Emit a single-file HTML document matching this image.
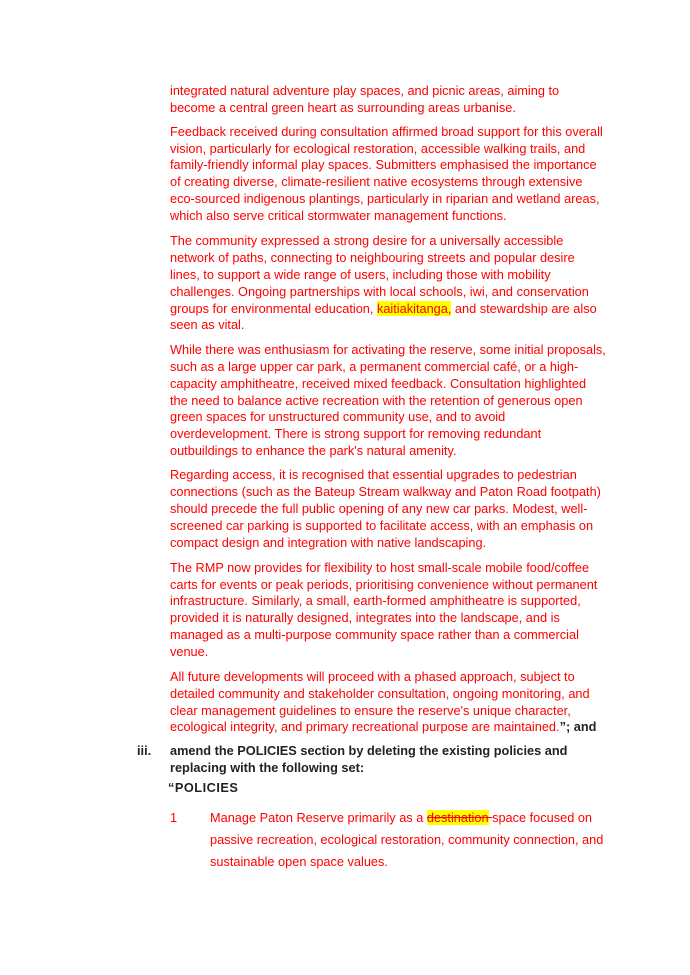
<!DOCTYPE html>
<html><head><meta charset="utf-8"><style>
body{margin:0;width:690px;height:975px;background:#fff;position:relative;font-family:"Liberation Sans",Arial,sans-serif;font-size:12.75px;color:#ff0000;overflow:hidden}
.l{position:absolute;left:170px;height:17px;line-height:17px;white-space:nowrap}
.b{color:#222;font-weight:bold}
.hl{background:#ffff00}
.p{left:210px}
</style></head><body>
<div class="l" style="top:82px">integrated natural adventure play spaces, and picnic areas, aiming to</div>
<div class="l" style="top:99px">become a central green heart as surrounding areas urbanise.</div>

<div class="l" style="top:123px">Feedback received during consultation affirmed broad support for this overall</div>
<div class="l" style="top:140px">vision, particularly for ecological restoration, accessible walking trails, and</div>
<div class="l" style="top:156px">family-friendly informal play spaces. Submitters emphasised the importance</div>
<div class="l" style="top:173px">of creating diverse, climate-resilient native ecosystems through extensive</div>
<div class="l" style="top:190px">eco-sourced indigenous plantings, particularly in riparian and wetland areas,</div>
<div class="l" style="top:207px">which also serve critical stormwater management functions.</div>

<div class="l" style="top:232px">The community expressed a strong desire for a universally accessible</div>
<div class="l" style="top:249px">network of paths, connecting to neighbouring streets and popular desire</div>
<div class="l" style="top:266px">lines, to support a wide range of users, including those with mobility</div>
<div class="l" style="top:283px">challenges. Ongoing partnerships with local schools, iwi, and conservation</div>
<div class="l" style="top:300px">groups for environmental education, <span class="hl">kaitiakitanga,</span> and stewardship are also</div>
<div class="l" style="top:316px">seen as vital.</div>

<div class="l" style="top:341px">While there was enthusiasm for activating the reserve, some initial proposals,</div>
<div class="l" style="top:358px">such as a large upper car park, a permanent commercial café, or a high-</div>
<div class="l" style="top:375px">capacity amphitheatre, received mixed feedback. Consultation highlighted</div>
<div class="l" style="top:392px">the need to balance active recreation with the retention of generous open</div>
<div class="l" style="top:408px">green spaces for unstructured community use, and to avoid</div>
<div class="l" style="top:425px">overdevelopment. There is strong support for removing redundant</div>
<div class="l" style="top:442px">outbuildings to enhance the park's natural amenity.</div>

<div class="l" style="top:466px">Regarding access, it is recognised that essential upgrades to pedestrian</div>
<div class="l" style="top:483px">connections (such as the Bateup Stream walkway and Paton Road footpath)</div>
<div class="l" style="top:500px">should precede the full public opening of any new car parks. Modest, well-</div>
<div class="l" style="top:517px">screened car parking is supported to facilitate access, with an emphasis on</div>
<div class="l" style="top:534px">compact design and integration with native landscaping.</div>

<div class="l" style="top:559px">The RMP now provides for flexibility to host small-scale mobile food/coffee</div>
<div class="l" style="top:576px">carts for events or peak periods, prioritising convenience without permanent</div>
<div class="l" style="top:592px">infrastructure. Similarly, a small, earth-formed amphitheatre is supported,</div>
<div class="l" style="top:609px">provided it is naturally designed, integrates into the landscape, and is</div>
<div class="l" style="top:626px">managed as a multi-purpose community space rather than a commercial</div>
<div class="l" style="top:643px">venue.</div>

<div class="l" style="top:668px">All future developments will proceed with a phased approach, subject to</div>
<div class="l" style="top:685px">detailed community and stakeholder consultation, ongoing monitoring, and</div>
<div class="l" style="top:702px">clear management guidelines to ensure the reserve's unique character,</div>
<div class="l" style="top:718px">ecological integrity, and primary recreational purpose are maintained.<span class="b">”; and</span></div>

<div class="l b" style="top:742px;left:137px">iii.</div>
<div class="l b" style="top:742px">amend the POLICIES section by deleting the existing policies and</div>
<div class="l b" style="top:759px">replacing with the following set:</div>
<div class="l b" style="top:779px;left:168px;letter-spacing:0.5px">“POLICIES</div>

<div class="l" style="top:809px;left:170px">1</div>
<div class="l p" style="top:809px">Manage Paton Reserve primarily as a <span class="hl"><s>destination</s></span><s> </s>space focused on</div>
<div class="l p" style="top:831px">passive recreation, ecological restoration, community connection, and</div>
<div class="l p" style="top:853px">sustainable open space values.</div>
</body></html>
